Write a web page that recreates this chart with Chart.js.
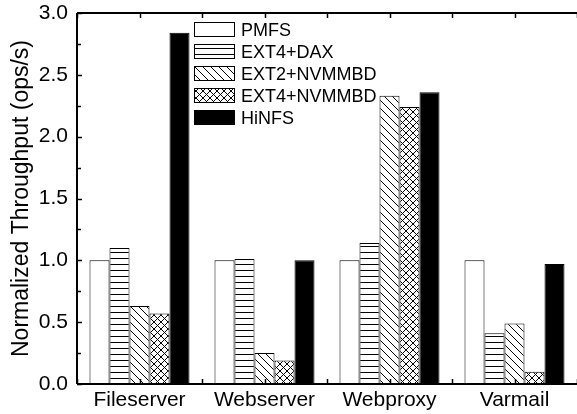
<!DOCTYPE html>
<html>
<head>
<meta charset="utf-8">
<script src="https://cdn.jsdelivr.net/npm/chart.js@4"></script>
<style>
html,body{margin:0;padding:0;background:#fff;overflow:hidden;}
canvas{display:block;}
</style>
</head>
<body>
<canvas id="c" width="577" height="414"></canvas>
<script>
const categories = ['Fileserver', 'Webserver', 'Webproxy', 'Varmail'];
const seriesNames = ['PMFS', 'EXT4+DAX', 'EXT2+NVMMBD', 'EXT4+NVMMBD', 'HiNFS'];
const pmfs       = [1.00, 1.00, 1.00, 1.00];
const ext4dax    = [1.10, 1.01, 1.14, 0.41];
const ext2nvmmbd = [0.63, 0.25, 2.33, 0.49];
const ext4nvmmbd = [0.57, 0.19, 2.24, 0.10];
const hinfs      = [2.84, 1.00, 2.36, 0.97];
const yTicks = [0, 0.5, 1.0, 1.5, 2.0, 2.5, 3.0];
const yTitle = 'Normalized Throughput (ops/s)';

function makePattern(type) {
  const s = type === 'h' ? 6 : (type === 'd' ? 8 : 7);
  const c = document.createElement('canvas');
  c.width = s; c.height = s;
  const g = c.getContext('2d');
  g.fillStyle = '#fff';
  g.fillRect(0, 0, s, s);
  g.strokeStyle = '#000';
  g.lineWidth = 1;
  g.beginPath();
  if (type === 'h') {
    g.moveTo(0, 0.5); g.lineTo(s, 0.5);
  } else {
    for (const k of [-s, 0, s]) {
      g.moveTo(k, 0); g.lineTo(k + s, s);
      if (type === 'x') { g.moveTo(k, s); g.lineTo(k + s, 0); }
    }
  }
  g.stroke();
  return g.createPattern(c, 'repeat');
}

const ctx = document.getElementById('c').getContext('2d');
const fills = ['#ffffff', makePattern('h'), makePattern('d'), makePattern('x'), '#000000'];
const values = [pmfs, ext4dax, ext2nvmmbd, ext4nvmmbd, hinfs];

const FONT = '"Liberation Sans", Arial, sans-serif';

const axesPlugin = {
  id: 'axesPlugin',
  afterDatasetsDraw(chart) {
    const c = chart.ctx, a = chart.chartArea;
    const xs = chart.scales.x, ys = chart.scales.y;
    c.save();
    c.strokeStyle = '#000';
    c.lineWidth = 1.5;
    c.beginPath();
    for (let v = 0; v <= 3.0001; v += 0.25) {
      const y = Math.round(ys.getPixelForValue(v)) + 0.5;
      const len = (Math.abs(v / 0.5 - Math.round(v / 0.5)) < 1e-6) ? 5 : 4;
      c.moveTo(a.left, y); c.lineTo(a.left + len, y);
    }
    for (let i = -0.5; i <= categories.length - 0.5 + 1e-6; i += 0.5) {
      const x = Math.round(xs.getPixelForValue(i)) + 0.5;
      c.moveTo(x, a.bottom); c.lineTo(x, a.bottom - 5);
      c.moveTo(x, a.top); c.lineTo(x, a.top + 5);
    }
    c.stroke();
    c.lineWidth = 2;
    c.beginPath();
    c.moveTo(a.left, a.top); c.lineTo(a.right, a.top);
    c.moveTo(a.left, a.top); c.lineTo(a.left, a.bottom);
    c.moveTo(a.left, a.bottom); c.lineTo(a.right, a.bottom);
    c.stroke();
    c.font = '18px ' + FONT;
    c.textBaseline = 'middle';
    chart.data.datasets.forEach((ds, i) => {
      const cy = 30 + i * 22;
      const bx = 194.5, by = cy - 7.5;
      c.fillStyle = ds.backgroundColor;
      c.fillRect(bx, by, 40, 14);
      c.lineWidth = 1;
      c.strokeStyle = '#000';
      c.strokeRect(bx, by, 40, 14);
      c.fillStyle = '#000';
      c.fillText(ds.label, 241, cy + 1);
    });
    c.restore();
  }
};

new Chart(ctx, {
  type: 'bar',
  data: {
    labels: categories,
    datasets: seriesNames.map((n, i) => ({
      label: n,
      data: values[i],
      backgroundColor: fills[i],
      borderColor: '#000',
      borderWidth: 1,
      categoryPercentage: 0.8,
      barPercentage: 1.0
    }))
  },
  options: {
    responsive: false,
    animation: false,
    devicePixelRatio: 1,
    layout: { padding: { top: 13, left: 0, right: 0, bottom: 0 } },
    plugins: { legend: { display: false }, tooltip: { enabled: false } },
    scales: {
      x: {
        grid: { display: false, drawTicks: false },
        border: { display: false },
        ticks: { color: '#000', font: { size: 21, family: FONT }, padding: 4, maxRotation: 0 },
        afterFit(s) { s.height = 30; s.paddingLeft = 0; s.paddingRight = 0; }
      },
      y: {
        min: 0, max: 3,
        afterBuildTicks(s) { s.ticks = yTicks.map(v => ({ value: v })); },
        grid: { display: false, drawTicks: false },
        border: { display: false },
        ticks: { color: '#000', font: { size: 21, family: FONT }, padding: 9,
                 callback: v => Number(v).toFixed(1) },
        title: { display: true, text: yTitle, color: '#000',
                 font: { size: 23, family: FONT }, padding: { top: 8, bottom: 0 } },
        afterFit(s) { s.width = 77; s.paddingTop = 0; s.paddingBottom = 0; }
      }
    }
  },
  plugins: [axesPlugin]
});
</script>
</body>
</html>
